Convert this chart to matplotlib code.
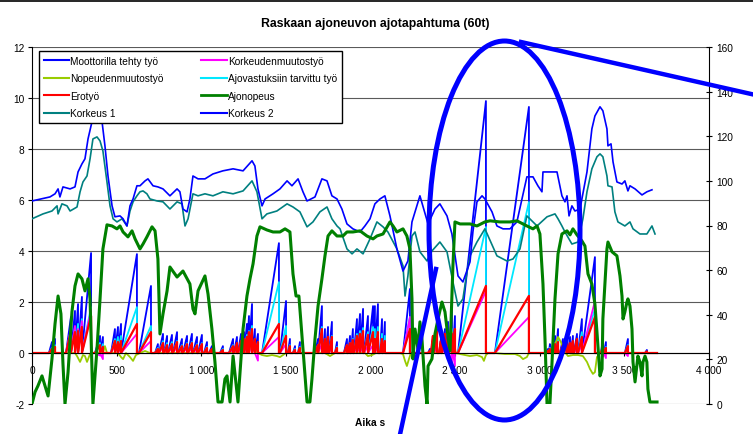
import numpy as np
import matplotlib.pyplot as plt
from matplotlib.patches import Ellipse
from matplotlib.lines import Line2D

plt.rcParams['font.family'] = ['Liberation Sans', 'DejaVu Sans']
plt.rcParams['axes.unicode_minus'] = False

# --- data ----------------------------------------------------------------
x_ticks = [0, 500, 1000, 1500, 2000, 2500, 3000, 3500, 4000]
x_ticklabels = ['0', '500', '1 000', '1 500', '2 000', '2 500', '3 000', '3 500', '4 000']
series_end = 3693

# work intervals (start, reset) shared by the work series, left axis
spike_start = [100, 124, 201, 230, 254, 272, 295, 372, 402, 467,
               490, 508, 526, 632, 727, 750, 780, 803, 833, 863,
               892, 922, 951, 981, 1016, 1046, 1111, 1164, 1193, 1217,
               1241, 1253, 1270, 1282, 1300, 1317, 1359, 1465, 1512, 1542,
               1572, 1672, 1690, 1719, 1737, 1755, 1790, 1843, 1867, 1885,
               1902, 1920, 1938, 1961, 1985, 2015, 2026, 2056, 2074, 2192,
               2340, 2357, 2375, 2405, 2422, 2446, 2464, 2487, 2517, 2735,
               3037, 3054, 3066, 3084, 3096, 3119, 3143, 3167, 3184, 3202,
               3226, 3249, 3362, 3379, 3503, 3622]
spike_end = [118, 136, 230, 254, 272, 295, 349, 402, 419, 490,
             508, 526, 620, 703, 744, 774, 798, 827, 857, 886,
             916, 945, 975, 1004, 1034, 1063, 1128, 1188, 1211, 1235,
             1253, 1270, 1282, 1300, 1317, 1335, 1459, 1501, 1524, 1554,
             1583, 1690, 1713, 1731, 1749, 1772, 1802, 1861, 1879, 1896,
             1920, 1938, 1956, 1985, 2015, 2026, 2044, 2068, 2085, 2233,
             2351, 2369, 2393, 2416, 2440, 2458, 2481, 2499, 2682, 2936,
             3049, 3060, 3078, 3090, 3108, 3137, 3161, 3179, 3196, 3220,
             3249, 3326, 3373, 3391, 3521, 3633]
moottori_peak = [.43, .55, 1.41, 1.65, 1.92, 2.20, 3.92, .67, .63, .94,
                 1.02, 1.14, 3.88, 2.63, .35, .75, .67, .71, .82, .55,
                 .67, .75, .63, .71, .43, .27, .27, .55, .63, .75,
                 .82, 1.14, 1.45, 1.92, .94, .75, 4.31, 2.04, .55, .27,
                 .43, .55, 1.84, .94, 1.02, 1.22, .43, .55, .67, .94,
                 1.33, 1.53, 1.73, 1.45, 1.84, 1.84, 1.92, 1.33, 1.22, 2.51,
                 .16, .55, .94, .55, .94, 1.22, 1.73, 1.45, 9.88, 9.65,
                 .16, .35, .35, .67, .94, .55, .75, .63, .67, .75,
                 1.33, 3.76, .55, .43, .55, .12]
ajovastus_peak = [.20, .31, .94, 1.02, 1.14, 1.33, 1.80, .39, .35, .55,
                  .63, .67, 1.80, 1.06, .20, .47, .39, .43, .47, .31,
                  .39, .43, .35, .39, .24, .16, .16, .31, .35, .43,
                  .47, .71, .86, 1.06, .55, .43, 2.78, 1.06, .31, .16,
                  .24, .31, 1.02, .55, .59, .67, .24, .31, .39, .55,
                  .75, .86, .98, .82, 1.02, .94, 1.02, .75, .67, 1.41,
                  .08, .35, .55, .31, .55, .67, .94, .82, 4.94, 5.92,
                  .08, .20, .20, .39, .55, .31, .43, .35, .39, .43,
                  .82, 1.73, .31, .24, .31, .06]
ero_peak = [.16, .24, .86, .82, .86, 1.02, 1.45, .31, .24, .47,
            .43, .47, 1.14, .82, .16, .39, .31, .35, .43, .27,
            .35, .39, .31, .35, .20, .16, .12, .27, .39, .47,
            .55, .63, .82, .94, .55, .43, 1.14, .67, .27, .12,
            .20, .31, .94, .55, .63, .63, .20, .31, .39, .51,
            .67, .75, .86, .71, .82, .55, .82, .55, .47, .94,
            .08, .67, .82, .47, .75, .63, .75, .94, 2.63, 2.24,
            .08, .16, .16, .35, .43, .31, .43, .39, .47, .55,
            .63, 1.41, .27, .20, .27, .06]
korkeus_tyo_peak = [.08, .12, .94, 1.06, .94, 1.25, 1.69, -.10, -.24, .31,
                    .31, .27, .75, .47, .08, .24, .20, .20, .24, .16,
                    .20, .20, .16, .16, .08, .08, .06, .12, .16, .20,
                    .20, .31, .35, .39, .24, -.30, .63, .35, .12, .06,
                    .08, .16, .35, .24, .24, .27, .08, .12, .16, .20,
                    .24, .27, .31, .27, .31, .24, .27, .20, .16, 1.41,
                    .04, .16, .20, .16, .16, -.20, -.35, -.50, 2.43, 1.41,
                    .04, .08, .08, .16, .20, .12, .16, .16, .16, .20,
                    .31, 2.04, -.15, -.20, -.12, .02]

nopeus_tyo_t = [0, 254, 266, 284, 301, 313, 325, 343, 360, 419,
                431, 443, 508, 526, 538, 555, 579, 597, 614, 638,
                668, 697, 1276, 1300, 1317, 1335, 1359, 1388, 1418, 1447,
                1465, 1483, 1501, 1731, 1761, 1790, 1967, 1985, 2009, 2032,
                2174, 2192, 2204, 2215, 2227, 2239, 2410, 2440, 2470, 2481,
                2493, 2505, 2529, 2588, 2629, 2659, 2670, 2682, 2694, 2735,
                2794, 2854, 2883, 2901, 2924, 2936, 3060, 3090, 3108, 3125,
                3143, 3167, 3196, 3226, 3255, 3279, 3297, 3314, 3326, 3338,
                3356, 3373, 3391, 3693]
nopeus_tyo_v = [0, 0, -.12, -.35, -.08, -.12, -.35, -.04, 0, 0,
                .27, 0, 0, -.16, -.24, 0, -.16, -.31, -.08, 0,
                .08, 0, 0, .43, .08, 0, -.08, -.12, -.08, -.12,
                -.16, -.08, 0, 0, -.12, 0, 0, -.12, -.08, 0,
                0, -.04, -.31, -.51, -.24, 0, 0, .24, .63, .82,
                .35, 0, -.04, -.12, -.08, -.16, -.31, -.08, 0, 0,
                -.04, -.04, -.12, -.24, -.16, 0, 0, .35, .63, .43,
                .08, -.12, -.08, -.08, -.12, -.35, -.63, -.82, -.75, -.16,
                0, .16, 0, 0]

# right axis: speed (km/h) and altitudes (m)
nopeus_t = [0, 18, 35, 59, 77, 95, 118, 136, 154, 171,
            183, 195, 213, 236, 254, 272, 295, 313, 331, 343,
            360, 384, 402, 419, 443, 473, 502, 520, 538, 567,
            591, 609, 638, 656, 679, 709, 727, 744, 756, 774,
            798, 815, 857, 892, 933, 951, 963, 981, 1022, 1040,
            1063, 1081, 1099, 1123, 1140, 1152, 1170, 1188, 1217, 1247,
            1270, 1288, 1306, 1329, 1347, 1388, 1424, 1465, 1495, 1524,
            1542, 1560, 1577, 1589, 1607, 1625, 1642, 1654, 1672, 1690,
            1713, 1731, 1749, 1772, 1802, 1837, 1861, 1896, 1938, 1979,
            2015, 2038, 2074, 2115, 2133, 2156, 2192, 2215, 2233, 2245,
            2251, 2263, 2280, 2292, 2304, 2322, 2334, 2340, 2363, 2381,
            2399, 2422, 2440, 2452, 2470, 2487, 2499, 2529, 2588, 2629,
            2676, 2706, 2765, 2824, 2865, 2924, 2960, 2984, 3001, 3019,
            3031, 3043, 3060, 3072, 3090, 3108, 3131, 3161, 3179, 3196,
            3220, 3249, 3267, 3285, 3308, 3326, 3338, 3356, 3368, 3373,
            3397, 3403, 3427, 3456, 3474, 3486, 3492, 3503, 3515, 3521,
            3533, 3545, 3551, 3563, 3580, 3592, 3604, 3610, 3622, 3633,
            3639, 3651, 3693]
nopeus_v = [0, 5.4, 8.1, 12.6, 8.1, 3.6, 20.2, 35.9, 48.4, 40.4,
            17.9, 0, 14.3, 41.3, 52.9, 58.3, 56.1, 50.7, 56.1, 47.1,
            0, 24.7, 47.1, 69.5, 80.3, 79.8, 78.5, 79.8, 77.1, 74.9,
            77.6, 74.0, 69.5, 71.7, 74.9, 79.4, 77.6, 65.0, 31.4, 40.4,
            50.7, 61.4, 56.9, 59.6, 53.8, 42.6, 40.4, 50.7, 57.4, 49.3,
            33.6, 18.8, 0.9, 0.9, 11.2, 12.6, 0.9, 21.5, 0.9, 33.6,
            48.4, 56.1, 62.8, 75.3, 79.4, 78.0, 77.1, 77.1, 78.5, 77.1,
            58.3, 48.4, 48.4, 36.8, 18.8, 0.9, 0.9, 11.2, 29.1, 43.9,
            56.1, 66.4, 75.3, 77.6, 75.3, 75.3, 77.1, 77.1, 77.6, 75.3,
            74.0, 75.3, 76.2, 81.6, 79.8, 77.1, 78.5, 75.3, 69.5, 47.1,
            20.2, 33.6, 24.7, 36.8, 29.1, 8.1, 0, 17.0, 20.2, 31.4,
            38.1, 45.7, 41.3, 33.6, 23.8, 61.9, 81.6, 80.7, 80.7, 79.8,
            81.6, 82.1, 81.6, 81.6, 82.1, 79.8, 78.5, 79.8, 76.2, 53.8,
            29.1, 0, 0, 17.9, 47.1, 67.3, 76.2, 77.6, 75.8, 78.5,
            75.8, 73.1, 70.8, 58.3, 53.8, 44.8, 32.3, 12.6, 15.7, 38.1,
            69.5, 72.6, 68.2, 66.4, 57.4, 48.4, 38.1, 41.3, 45.7, 47.1,
            43.9, 33.6, 18.8, 9.9, 21.5, 18.8, 12.6, 18.8, 21.5, 18.8,
            6.7, 0.9, 0.9]

korkeus1_t = [0, 65, 118, 148, 154, 177, 207, 225, 266, 284,
              301, 325, 343, 360, 384, 402, 419, 443, 461, 479,
              502, 532, 561, 579, 597, 620, 638, 656, 679, 697,
              739, 774, 815, 857, 886, 904, 922, 951, 981, 1022,
              1069, 1128, 1188, 1247, 1300, 1329, 1359, 1388, 1447, 1507,
              1542, 1583, 1625, 1660, 1701, 1743, 1772, 1802, 1820, 1861,
              1891, 1920, 1956, 1997, 2038, 2074, 2103, 2156, 2192, 2204,
              2221, 2245, 2263, 2292, 2334, 2363, 2410, 2452, 2487, 2517,
              2546, 2570, 2588, 2629, 2676, 2747, 2806, 2842, 2883, 2924,
              2984, 3043, 3090, 3108, 3131, 3149, 3190, 3226, 3255, 3279,
              3308, 3338, 3356, 3373, 3397, 3403, 3427, 3444, 3462, 3503,
              3533, 3551, 3592, 3633, 3663, 3681]
korkeus1_v = [83.0, 85.2, 86.5, 88.8, 85.2, 89.7, 88.8, 86.5, 88.3, 95.1,
              99.5, 102.2, 109.9, 118.8, 119.7, 117.9, 113.4, 99.5, 88.8, 83.0,
              81.6, 83.0, 79.8, 86.5, 90.6, 93.3, 95.1, 95.5, 94.2, 91.9,
              91.0, 90.6, 87.4, 90.6, 89.7, 79.8, 83.0, 94.2, 93.3, 94.2,
              93.3, 95.1, 94.2, 95.5, 100.0, 95.1, 83.0, 85.2, 86.5, 89.7,
              88.3, 86.1, 79.4, 81.6, 86.1, 88.3, 83.0, 79.8, 78.5, 69.5,
              67.3, 69.5, 67.3, 74.0, 81.6, 79.4, 77.1, 69.5, 61.9, 48.4,
              57.4, 75.3, 77.1, 68.2, 64.1, 68.6, 72.6, 68.2, 54.7, 43.9,
              47.1, 59.2, 66.4, 72.6, 78.5, 66.4, 64.1, 65.0, 69.5, 84.3,
              79.8, 83.9, 85.2, 83.0, 79.8, 77.1, 71.7, 72.6, 83.0, 95.1,
              105.4, 110.8, 112.1, 110.8, 102.2, 97.8, 97.3, 86.1, 81.6, 79.8,
              81.6, 78.5, 76.2, 76.2, 79.8, 76.2]

korkeus2_t = [0, 106, 136, 154, 165, 183, 225, 254, 272, 295,
              313, 331, 354, 384, 414, 431, 449, 473, 490, 520,
              538, 561, 579, 597, 620, 638, 668, 685, 715, 744,
              774, 815, 857, 874, 892, 916, 933, 951, 981, 1022,
              1069, 1128, 1188, 1247, 1300, 1317, 1335, 1359, 1377, 1424,
              1465, 1507, 1536, 1572, 1601, 1625, 1672, 1713, 1743, 1772,
              1802, 1831, 1861, 1896, 1938, 1967, 1997, 2026, 2056, 2085,
              2115, 2156, 2192, 2221, 2245, 2292, 2340, 2381, 2410, 2452,
              2481, 2517, 2546, 2588, 2605, 2629, 2659, 2676, 2718, 2747,
              2783, 2824, 2865, 2895, 2924, 2960, 2989, 3013, 3019, 3102,
              3131, 3149, 3161, 3173, 3190, 3208, 3238, 3279, 3308, 3326,
              3356, 3373, 3397, 3403, 3421, 3433, 3456, 3486, 3503, 3521,
              3533, 3563, 3604, 3633, 3663]
korkeus2_v = [91.0, 92.8, 94.2, 96.4, 92.8, 97.3, 96.4, 97.3, 104.0, 107.6,
              109.9, 118.8, 126.4, 128.7, 126.4, 115.7, 102.2, 88.8, 83.9, 84.3,
              83.0, 79.8, 88.8, 91.9, 97.8, 97.8, 100.0, 100.9, 97.8, 97.3,
              96.4, 93.3, 96.4, 95.1, 87.4, 86.1, 91.9, 102.2, 100.9, 100.9,
              103.1, 104.5, 105.4, 104.5, 109.0, 106.7, 96.4, 88.8, 91.9, 94.2,
              96.4, 100.0, 97.8, 100.9, 95.1, 91.0, 92.8, 100.9, 100.0, 93.3,
              91.9, 87.4, 80.7, 78.5, 77.1, 79.8, 83.0, 89.7, 91.9, 93.3,
              84.3, 69.5, 59.6, 64.1, 81.6, 93.3, 80.7, 87.4, 89.7, 84.3,
              76.2, 57.4, 54.7, 63.7, 77.1, 90.6, 93.3, 91.9, 86.1, 79.8,
              78.5, 78.5, 81.6, 91.9, 101.8, 101.8, 97.8, 95.1, 104.0, 104.0,
              93.3, 90.6, 93.3, 84.3, 88.8, 86.5, 87.4, 104.0, 123.3, 129.1,
              133.2, 131.4, 123.3, 115.7, 116.6, 108.5, 99.5, 98.6, 100.0, 95.5,
              97.8, 96.4, 93.7, 95.1, 96.0]


def sawtooth(peaks):
    # work accumulates over each interval and resets to zero at its end
    t, v = [0], [0]
    for s, e, p in zip(spike_start, spike_end, peaks):
        t += [s, e, e]
        v += [0, p, 0]
    t.append(series_end)
    v.append(0)
    return t, v


W, H = 753, 435
fig = plt.figure(figsize=(W / 100, H / 100), dpi=100)
ax = fig.add_axes([32 / W, 30 / H, 677 / W, 357 / H])
ax2 = ax.twinx()

c_moot, c_nop, c_ero = '#0000FF', '#99CC00', '#FF0000'
c_k1, c_ktyo, c_ajo = '#008080', '#FF00FF', '#00E8FF'
c_speed, c_k2 = '#008000', '#0000FF'

ax.plot(*sawtooth(moottori_peak), color=c_moot, lw=1.3)
ax.plot(*sawtooth(ajovastus_peak), color=c_ajo, lw=1.3)
ax.plot(*sawtooth(korkeus_tyo_peak), color=c_ktyo, lw=1.3)
ax.plot(nopeus_tyo_t, nopeus_tyo_v, color=c_nop, lw=1.3)
ax.plot(*sawtooth(ero_peak), color=c_ero, lw=1.6)

ax2.plot(korkeus1_t, korkeus1_v, color=c_k1, lw=1.2)
ax2.plot(korkeus2_t, korkeus2_v, color=c_k2, lw=1.2)
ax2.plot(nopeus_t, nopeus_v, color=c_speed, lw=2.2)

ax.set_xlim(0, 4000)
ax.set_ylim(-2, 12)
ax2.set_ylim(0, 160)
ax.set_xticks(x_ticks)
ax.set_xticklabels(x_ticklabels)
ax.set_yticks(range(-2, 13, 2))
ax2.set_yticks(range(0, 161, 20))

ax.yaxis.grid(True, color='#5a5a5a', lw=0.8)
ax.set_axisbelow(True)
ax.spines['bottom'].set_position(('data', 0))
for s in ['top', 'right']:
    ax.spines[s].set_visible(False)
for s in ['top', 'left', 'bottom']:
    ax2.spines[s].set_visible(False)
ax.spines['left'].set_color('black')
ax.spines['bottom'].set_color('black')
ax2.spines['right'].set_color('black')

ax.tick_params(axis='x', direction='out', length=2, pad=7, labelsize=7.3)
ax.tick_params(axis='y', direction='out', length=3, pad=2.5, labelsize=7.3)
ax2.tick_params(axis='y', direction='inout', length=5, pad=3, labelsize=7.3)

handles = [Line2D([], [], color=c_moot, lw=1.5), Line2D([], [], color=c_nop, lw=1.5),
           Line2D([], [], color=c_ero, lw=1.5), Line2D([], [], color=c_k1, lw=1.5),
           Line2D([], [], color=c_ktyo, lw=1.5), Line2D([], [], color=c_ajo, lw=1.5),
           Line2D([], [], color=c_speed, lw=2), Line2D([], [], color=c_k2, lw=1.5)]
labels = ['Moottorilla tehty työ', 'Nopeudenmuutostyö', 'Erotyö', 'Korkeus 1',
          'Korkeudenmuutostyö', 'Ajovastuksiin tarvittu työ', 'Ajonopeus', 'Korkeus 2']
leg = ax2.legend(handles, labels, ncol=2, loc='upper left',
                 bbox_to_anchor=(7 / 677, 0.776, 303 / 677, 0.2129), mode='expand',
                 fontsize=7.3, fancybox=False, edgecolor='black', framealpha=1,
                 borderpad=0.45, handlelength=2.5, handletextpad=0.15,
                 labelspacing=0.75, borderaxespad=0)
leg.get_frame().set_linewidth(1.0)
leg.set_zorder(10)

fig.text(375 / W, 1 - 24 / H, 'Raskaan ajoneuvon ajotapahtuma (60t)', ha='center',
         va='center', fontsize=8.8, fontweight='bold')
fig.text(370 / W, 1 - 423 / H, 'Aika s', ha='center', va='center',
         fontsize=7.3, fontweight='bold')

# frame line on top and the hand-drawn highlight
fig.add_artist(Line2D([0, 1], [1 - 2 / H, 1 - 2 / H], transform=fig.transFigure,
                      color='black', lw=1.2))
fig.add_artist(Ellipse((504.5 / W, 1 - 231.5 / H), 151 / W, 379 / H,
                       transform=fig.transFigure, fill=False, ec='#0000FF', lw=3.6))
fig.add_artist(Line2D([521 / W, 760 / W], [1 - 43 / H, 1 - 97 / H],
                      transform=fig.transFigure, color='#0000FF', lw=3.2))
fig.add_artist(Line2D([399 / W, 436 / W], [1 - 440 / H, 1 - 270 / H],
                      transform=fig.transFigure, color='#0000FF', lw=3.2))

fig.savefig('out.png', dpi=100)
